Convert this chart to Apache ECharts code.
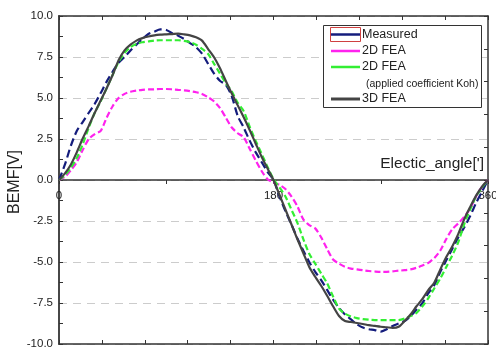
<!DOCTYPE html>
<html>
<head>
<meta charset="utf-8">
<script src="https://cdn.jsdelivr.net/npm/echarts@6/dist/echarts.min.js"></script>
<style>html,body{margin:0;padding:0;background:#fff}#c{width:496px;height:349px}</style>
</head>
<body>
<div id="c"></div>
<script>
const angles = [0,5,10,15,20,25,30,35,40,45,50,55,60,65,70,75,80,85,90,95,100,105,110,115,120,125,130,135,140,145,150,155,160,165,170,175,180,185,190,195,200,205,210,215,220,225,230,235,240,245,250,255,260,265,270,275,280,285,290,295,300,305,310,315,320,325,330,335,340,345,350,355,360];
const seriesNames = ['Measured','2D FEA','2D FEA','3D FEA'];
const measured = [0,0.95,2.1,3.0,3.55,4.1,4.65,5.3,6.0,6.6,7.15,7.5,7.9,8.25,8.6,8.9,9.05,9.18,9.15,8.95,8.8,8.6,8.35,8.1,7.7,7.1,6.5,6.05,5.8,5.1,3.9,3.2,2.4,1.7,1.1,0.5,0,-1.0,-1.9,-2.7,-3.55,-4.3,-5.0,-5.6,-6.1,-6.7,-7.3,-7.8,-8.2,-8.5,-8.8,-9.0,-9.1,-9.15,-9.25,-9.1,-8.9,-8.75,-8.6,-8.3,-7.9,-7.5,-6.9,-6.4,-5.6,-4.9,-4.2,-3.5,-2.9,-2.2,-1.4,-0.7,0];
const fea2d = [0,0.2,0.6,1.1,1.85,2.5,2.8,3.0,3.8,4.5,5.0,5.25,5.38,5.45,5.5,5.52,5.53,5.55,5.55,5.53,5.5,5.47,5.42,5.35,5.25,5.05,4.8,4.4,3.8,3.2,2.85,2.6,1.9,1.2,0.55,0.05,-0.15,-0.3,-0.55,-1.0,-1.6,-2.4,-2.75,-2.95,-3.5,-4.2,-4.85,-5.1,-5.3,-5.4,-5.45,-5.5,-5.55,-5.58,-5.6,-5.6,-5.57,-5.53,-5.5,-5.45,-5.35,-5.22,-5.05,-4.75,-4.3,-3.6,-3.0,-2.65,-2.25,-1.75,-1.0,-0.4,0];
const fea2dKoh = [0,0.3,0.75,1.35,2.2,3.2,4.1,4.8,5.6,6.4,7.2,7.75,8.1,8.3,8.4,8.45,8.5,8.52,8.52,8.52,8.52,8.48,8.4,8.25,8.0,7.7,7.1,6.5,5.9,5.4,4.7,4.2,3.25,2.4,1.6,0.8,0.05,-0.45,-1.0,-1.8,-2.6,-3.6,-4.5,-5.1,-5.7,-6.3,-7.1,-7.85,-8.15,-8.32,-8.42,-8.48,-8.52,-8.54,-8.55,-8.55,-8.55,-8.54,-8.45,-8.3,-8.1,-7.7,-7.2,-6.6,-6.0,-5.3,-4.6,-3.8,-2.7,-1.8,-1.0,-0.45,0];
const fea3d = [0,0.4,0.95,1.7,2.55,3.3,4.1,4.85,5.6,6.4,7.3,7.9,8.25,8.5,8.65,8.75,8.82,8.86,8.88,8.9,8.92,8.88,8.82,8.7,8.5,8.0,7.5,6.83,6.04,5.27,4.55,3.82,3.05,2.23,1.42,0.7,0,-0.9,-1.8,-2.7,-3.6,-4.45,-5.3,-5.9,-6.45,-7.06,-7.7,-8.29,-8.6,-8.66,-8.72,-8.78,-8.85,-8.9,-8.95,-8.98,-9.02,-8.95,-8.6,-8.2,-7.7,-7.25,-6.7,-6.25,-5.45,-4.7,-4.05,-3.3,-2.4,-1.65,-0.95,-0.4,0];
const xLabelValues = [0,180,360];
const yTicks = [-10,-7.5,-5,-2.5,0,2.5,5,7.5,10];
const yTitle = 'BEMF[V]';
const xTitle = "Electic_angle[']";

const colors = ['#141c7c','#ff22ee','#33ee33','#444444'];
const dashes = [[8,4],[6,3],[6,3],'solid'];
const valuesList = [measured, fea2d, fea2dKoh, fea3d];
const F = 'Liberation Sans, Arial, sans-serif';

const W = 496, H = 349, GT = 16, GB = 5;
const zeroOffset = -(H - GT - GB) / 2;

const chart = echarts.init(document.getElementById('c'));
const series = valuesList.map((vals,i)=>({
  name: seriesNames[i] + (i===2?' (Koh)':''),
  type:'line', xAxisIndex:0, yAxisIndex:0,
  data: angles.map((a,j)=>[a, vals[j]]),
  showSymbol:false, smooth:0.25,
  lineStyle:{color:colors[i], width:2.2, type:dashes[i]},
  z: 3+i
}));

const legendY = [34.5, 51, 67, 99];
const graphic = [
  {type:'rect', shape:{x:323.5,y:25.5,width:158,height:82}, style:{fill:'#fff',stroke:'#333',lineWidth:1}, z:50},
  {type:'rect', shape:{x:330.5,y:27.5,width:30,height:14}, style:{fill:'none',stroke:'#d04040',lineWidth:1}, z:51},
];
valuesList.forEach((v,i)=>{
  graphic.push({type:'line', shape:{x1:331,y1:legendY[i],x2:360,y2:legendY[i]}, style:{stroke:colors[i],lineWidth:i===3?3:2.5}, z:52});
  graphic.push({type:'text', x:362, y:legendY[i], style:{text:seriesNames[i], font:'12.5px '+F, fill:'#222', verticalAlign:'middle'}, z:52});
});
graphic.push({type:'text', x:366, y:84.5, style:{text:'(applied coefficient Koh)', font:'10.5px '+F, fill:'#222', verticalAlign:'middle'}, z:52});
graphic.push({type:'text', x:484, y:163.5, style:{text:xTitle, font:'15.5px '+F, fill:'#222', align:'right', verticalAlign:'middle'}, z:52});
graphic.push({type:'text', x:15, y:182, rotation:Math.PI/2, style:{text:yTitle, font:'16px '+F, fill:'#222', align:'center', verticalAlign:'middle'}, z:52});

chart.setOption({
  animation:false,
  backgroundColor:'#fff',
  grid:{left:59, right:8, top:GT, bottom:GB, containLabel:false, outerBoundsMode:'none'},
  xAxis:[
    {type:'value', min:0, max:360, interval:90, position:'bottom', offset:zeroOffset,
     axisLine:{show:true, onZero:false, lineStyle:{color:'#333', width:1.5}},
     axisTick:{show:true, inside:false, length:4, lineStyle:{color:'#333'}},
     axisLabel:{show:true, margin:10, color:'#222', fontSize:11.5, fontFamily:F, hideOverlap:false,
       formatter:v=> xLabelValues.indexOf(v)>=0 ? String(v) : ''},
     splitLine:{show:false}},
    {type:'value', min:0, max:360, interval:36, position:'bottom',
     axisLine:{show:true, onZero:false, lineStyle:{color:'#333', width:1.5}},
     axisTick:{show:true, inside:true, length:4, lineStyle:{color:'#333'}},
     axisLabel:{show:false}, splitLine:{show:false}},
    {type:'value', min:0, max:360, interval:36, position:'top',
     axisLine:{show:true, onZero:false, lineStyle:{color:'#333', width:1.5}},
     axisTick:{show:true, inside:true, length:4, lineStyle:{color:'#333'}},
     axisLabel:{show:false}, splitLine:{show:false}}
  ],
  yAxis:[
    {type:'value', min:-10, max:10, interval:2.5, position:'left',
     axisLine:{show:true, onZero:false, lineStyle:{color:'#333', width:1.8}},
     axisTick:{show:true, inside:true, length:4, lineStyle:{color:'#333'}},
     minorTick:{show:true, splitNumber:2, length:4, lineStyle:{color:'#333'}},
     axisLabel:{show:true, margin:6, color:'#222', fontSize:11.5, fontFamily:F,
       formatter:v=> yTicks.indexOf(v)>=0 ? v.toFixed(1) : ''},
     splitLine:{show:true, lineStyle:{color:'#cccccc', width:1, type:[8,6]}}},
    {type:'value', min:-10, max:10, interval:2, position:'right',
     axisLine:{show:true, onZero:false, lineStyle:{color:'#333', width:1.5}},
     axisTick:{show:true, inside:true, length:4, lineStyle:{color:'#333'}},
     axisLabel:{show:false}, splitLine:{show:false}}
  ],
  series: series,
  graphic: graphic
});
</script>
</body>
</html>
